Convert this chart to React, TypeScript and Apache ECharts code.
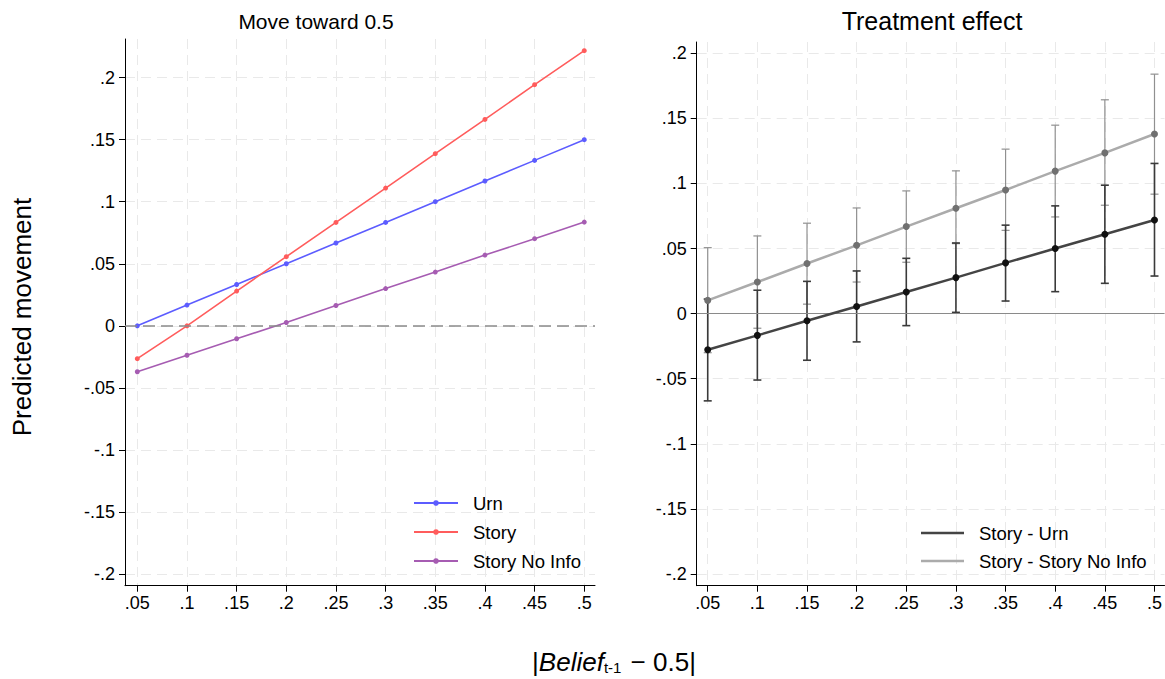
import React, { useEffect, useRef } from "react";
import * as echarts from "echarts";

const xValues = [0.05, 0.1, 0.15, 0.2, 0.25, 0.3, 0.35, 0.4, 0.45, 0.5];
const yTicks = [-0.2, -0.15, -0.1, -0.05, 0, 0.05, 0.1, 0.15, 0.2];

const urn = [0, 0.0167, 0.0333, 0.05, 0.0667, 0.0833, 0.1, 0.1167, 0.1333, 0.15];
const story = [-0.0265, 0, 0.028, 0.0557, 0.0833, 0.111, 0.1387, 0.1663, 0.1943, 0.2217];
const storyNoInfo = [-0.037, -0.0237, -0.0104, 0.0027, 0.0164, 0.03, 0.0433, 0.057, 0.0702, 0.0836];

const storyMinusUrn = [-0.0277, -0.0167, -0.0055, 0.0055, 0.0166, 0.0277, 0.039, 0.05, 0.061, 0.072];
const storyMinusUrnLo = [-0.067, -0.051, -0.0358, -0.0217, -0.0092, 0.001, 0.0097, 0.0169, 0.0233, 0.0289];
const storyMinusUrnHi = [0.0112, 0.018, 0.0248, 0.0328, 0.0425, 0.0543, 0.068, 0.0828, 0.0987, 0.1154];

const storyMinusNoInfo = [0.0102, 0.0243, 0.0385, 0.0525, 0.0669, 0.081, 0.095, 0.1095, 0.1235, 0.138];
const storyMinusNoInfoLo = [-0.03, -0.0112, 0.0073, 0.0243, 0.0395, 0.0538, 0.064, 0.0743, 0.0833, 0.0918];
const storyMinusNoInfoHi = [0.0507, 0.0597, 0.0695, 0.0812, 0.0943, 0.1097, 0.1264, 0.1448, 0.1643, 0.184];

const FONT = "'Liberation Sans', Arial, Helvetica, sans-serif";

const fmt = (v: number) => {
  if (Math.abs(v) < 1e-9) return "0";
  const s = String(Math.round(v * 1000) / 1000);
  return s.replace(/^(-?)0\./, "$1.");
};

const gridLine = {
  show: true,
  lineStyle: { color: "#e9e9e9", width: 1, type: [10, 6] as any },
};

function xAxisCfg(gridIndex: number, min: number, max: number) {
  return {
    type: "value",
    gridIndex,
    min,
    max,
    axisLine: { show: true, onZero: false, lineStyle: { color: "#000", width: 1 } },
    axisTick: { show: true, length: 6, lineStyle: { color: "#000" }, customValues: xValues },
    axisLabel: { customValues: xValues, formatter: fmt, color: "#000", fontSize: 18, fontFamily: FONT, margin: 8 },
    splitLine: gridLine,
  };
}

function yAxisCfg(gridIndex: number, min: number, max: number) {
  return {
    type: "value",
    gridIndex,
    min,
    max,
    axisLine: { show: true, onZero: false, lineStyle: { color: "#000", width: 1 } },
    axisTick: { show: true, length: 6, lineStyle: { color: "#000" }, customValues: yTicks },
    axisLabel: { customValues: yTicks, formatter: fmt, color: "#000", fontSize: 18, fontFamily: FONT, margin: 10 },
    splitLine: gridLine,
  };
}

function pairs(ys: number[]) {
  return xValues.map((x, i) => [x, ys[i]]);
}

function errorBars(name: string, lo: number[], hi: number[], color: string, width: number, idx: number) {
  return {
    type: "custom",
    name,
    xAxisIndex: idx,
    yAxisIndex: idx,
    z: 2,
    silent: true,
    encode: { x: 0, y: [1, 2] },
    data: xValues.map((x, i) => [x, lo[i], hi[i]]),
    renderItem: (params: any, api: any) => {
      const x = api.value(0);
      const p1 = api.coord([x, api.value(1)]);
      const p2 = api.coord([x, api.value(2)]);
      const cw = 4;
      const style = { stroke: color, lineWidth: width };
      return {
        type: "group",
        children: [
          { type: "line", shape: { x1: p1[0], y1: p1[1], x2: p2[0], y2: p2[1] }, style },
          { type: "line", shape: { x1: p1[0] - cw, y1: p1[1], x2: p1[0] + cw, y2: p1[1] }, style },
          { type: "line", shape: { x1: p2[0] - cw, y1: p2[1], x2: p2[0] + cw, y2: p2[1] }, style },
        ],
      };
    },
  };
}

export default function App() {
  const ref = useRef<HTMLDivElement>(null);
  useEffect(() => {
    document.body.style.margin = "0";
    if (!ref.current) return;
    const chart = echarts.init(ref.current, undefined, { renderer: "svg" });
    const blue = "#5c5cff";
    const red = "#ff5c5c";
    const purple = "#a65cb2";
    const legendText = { fontSize: 18.5, color: "#000", fontFamily: FONT, padding: [0, 0, 0, 10], lineHeight: 20 };
    const option: any = {
      animation: false,
      backgroundColor: "#fff",
      textStyle: { fontFamily: FONT },
      grid: [
        { left: 125, top: 39, width: 470, height: 546.7 },
        { left: 696.7, top: 42, right: 0, height: 543.7 },
      ],
      xAxis: [xAxisCfg(0, 0.0376, 0.5108), xAxisCfg(1, 0.0389, 0.5101)],
      yAxis: [yAxisCfg(0, -0.2094, 0.2311), yAxisCfg(1, -0.209, 0.2087)],
      legend: [
        {
          orient: "vertical",
          left: 408,
          top: 488,
          itemWidth: 44,
          itemHeight: 7,
          itemGap: 9,
          textStyle: legendText,
          data: ["Urn", "Story", "Story No Info"],
        },
        {
          orient: "vertical",
          left: 916,
          top: 518,
          itemWidth: 43,
          itemHeight: 2.5,
          itemGap: 8,
          textStyle: legendText,
          data: [
            { name: "Story - Urn", icon: "rect", itemStyle: { color: "#444444" } },
            { name: "Story - Story No Info", icon: "rect", itemStyle: { color: "#ababab" } },
          ],
        },
      ],
      graphic: [
        {
          type: "text",
          x: 316,
          y: 21,
          style: { text: "Move toward 0.5", fontSize: 21, fontFamily: FONT, fill: "#000", align: "center", verticalAlign: "middle" },
        },
        {
          type: "text",
          x: 932,
          y: 21,
          style: { text: "Treatment effect", fontSize: 25, fontFamily: FONT, fill: "#000", align: "center", verticalAlign: "middle" },
        },
        {
          type: "text",
          x: 22,
          y: 317,
          rotation: Math.PI / 2,
          style: { text: "Predicted movement", fontSize: 26, fontFamily: FONT, fill: "#000", align: "center", verticalAlign: "middle" },
        },
        {
          type: "text",
          x: 614,
          y: 660,
          style: {
            text: "{n||}{i|Belief}{s|t-1}{n| − 0.5|}",
            fontFamily: FONT,
            fill: "#000",
            align: "center",
            verticalAlign: "middle",
            rich: {
              n: { fontSize: 26, fontFamily: FONT, lineHeight: 30, verticalAlign: "bottom" },
              i: { fontSize: 26, fontFamily: FONT, fontStyle: "italic", lineHeight: 30, verticalAlign: "bottom" },
              s: { fontSize: 15, fontFamily: FONT, lineHeight: 15, verticalAlign: "bottom", padding: [0, 2, 0, 0] },
            },
          },
        },
      ],
      series: [
        {
          type: "line",
          name: "Urn",
          xAxisIndex: 0,
          yAxisIndex: 0,
          data: pairs(urn),
          symbol: "circle",
          symbolSize: 5,
          z: 4,
          lineStyle: { color: blue, width: 1.6 },
          itemStyle: { color: blue },
          markLine: {
            silent: true,
            symbol: "none",
            label: { show: false },
            lineStyle: { color: "#8a8a8a", width: 1.5, type: [12, 6] as any },
            data: [{ yAxis: 0 }],
          },
        },
        {
          type: "line",
          name: "Story",
          xAxisIndex: 0,
          yAxisIndex: 0,
          data: pairs(story),
          symbol: "circle",
          symbolSize: 5,
          z: 4,
          lineStyle: { color: red, width: 1.6 },
          itemStyle: { color: red },
        },
        {
          type: "line",
          name: "Story No Info",
          xAxisIndex: 0,
          yAxisIndex: 0,
          data: pairs(storyNoInfo),
          symbol: "circle",
          symbolSize: 5,
          z: 4,
          lineStyle: { color: purple, width: 1.6 },
          itemStyle: { color: purple },
        },
        errorBars("Story - Story No Info CI", storyMinusNoInfoLo, storyMinusNoInfoHi, "#909090", 1.2, 1),
        errorBars("Story - Urn CI", storyMinusUrnLo, storyMinusUrnHi, "#3a3a3a", 1.6, 1),
        {
          type: "line",
          name: "Story - Story No Info",
          xAxisIndex: 1,
          yAxisIndex: 1,
          data: pairs(storyMinusNoInfo),
          symbol: "circle",
          symbolSize: 7,
          z: 4,
          color: "#ababab",
          lineStyle: { color: "#ababab", width: 2.5 },
          itemStyle: { color: "#707070" },
          markLine: {
            silent: true,
            symbol: "none",
            label: { show: false },
            lineStyle: { color: "#8a8a8a", width: 1.2, type: "solid" },
            data: [{ yAxis: 0 }],
          },
        },
        {
          type: "line",
          name: "Story - Urn",
          xAxisIndex: 1,
          yAxisIndex: 1,
          data: pairs(storyMinusUrn),
          symbol: "circle",
          symbolSize: 7,
          z: 5,
          color: "#444444",
          lineStyle: { color: "#444444", width: 2.5 },
          itemStyle: { color: "#111111" },
        },
      ],
    };
    chart.setOption(option);
    return () => chart.dispose();
  }, []);
  return <div ref={ref} style={{ width: 1165, height: 679 }} />;
}
